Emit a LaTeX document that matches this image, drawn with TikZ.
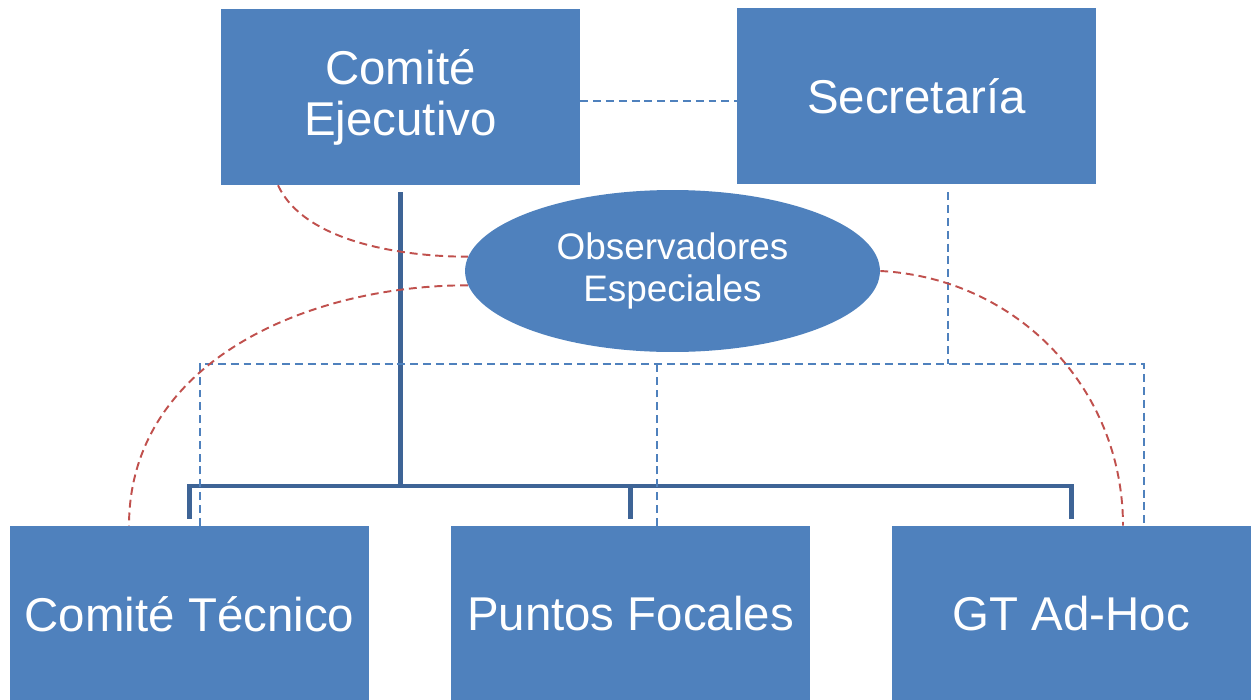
\documentclass[tikz,border=0pt]{standalone}
\usepackage{fontspec}
\setmainfont{Liberation Sans}
\usetikzlibrary{shapes, positioning, arrows}

\definecolor{boxblue}{HTML}{4F81BD}
\definecolor{treeblue}{HTML}{3E6496}
\definecolor{linkred}{HTML}{C0504D}

\begin{document}
\begin{tikzpicture}[
          x=0.02cm, y=0.02cm,
          unit/.style={rectangle, fill=boxblue, text=white, inner sep=0pt,
            minimum width=7.18cm, minimum height=3.52cm, align=center,
            font=\fontsize{27}{29}\selectfont},
          observer/.style={ellipse, fill=boxblue, text=white, inner sep=0pt,
            minimum width=8.3cm, minimum height=3.24cm, align=center,
            font=\fontsize{21}{24}\selectfont},
          branch/.style={draw=treeblue, line width=2.8pt},
          relation/.style={draw=boxblue, line width=1.1pt, dash pattern=on 4.5pt off 2.8pt},
          liaison/.style={draw=linkred, line width=1.1pt, dash pattern=on 4.5pt off 2.8pt}
        ]
        \useasboundingbox (0,0) rectangle (1252,-700);
        \node[unit] (ejecutivo) at (400.5,-97) {Comité\\Ejecutivo};
        \node[unit] (secretaria) at (916.5,-96) {Secretaría};
        \node[observer] (observadores) at (672.5,-271) {Observadores\\Especiales};
        \node[unit] (tecnico) at (189.5,-614) {Comité Técnico};
        \node[unit] (focales) at (630.5,-614) {Puntos Focales};
        \node[unit] (adhoc) at (1071.5,-614) {GT Ad-Hoc};

        \coordinate (bar) at (400.5,-486);
        \coordinate (link) at (580,-101);
        \coordinate (frameL) at (200,-364);
        \coordinate (frameM) at (657,-364);
        \coordinate (frameR) at (1144,-364);
        \coordinate (secdrop) at (948,-364);

        \draw[branch, shorten <=0.14cm] (ejecutivo.south) -- (ejecutivo.south |- bar);
        \draw[branch, shorten <=0.14cm, shorten >=0.14cm]
          (tecnico.north) -- (tecnico.north |- bar) -- (adhoc.north |- bar) -- (adhoc.north);
        \draw[branch, shorten <=0.14cm] (focales.north) -- (focales.north |- bar);

        \draw[relation] (ejecutivo.east |- link) -- (secretaria.west |- link);
        \draw[relation, shorten <=0.16cm] (secretaria.south -| secdrop) -- (secdrop);
        \draw[relation] (tecnico.north -| frameL) -- (frameL) -- (frameR) -- (adhoc.north -| frameR);
        \draw[relation] (focales.north -| frameM) -- (frameM);

        \draw[liaison] ([xshift=-2.45cm]ejecutivo.south) to[out=-65, in=180, looseness=0.8] (observadores.176);
        \draw[liaison] (observadores.184) to[out=180, in=90] ([xshift=-1.21cm]tecnico.north);
        \draw[liaison] (observadores.east) to[out=-3, in=90] ([xshift=1.03cm]adhoc.north);
\end{tikzpicture}
\end{document}
